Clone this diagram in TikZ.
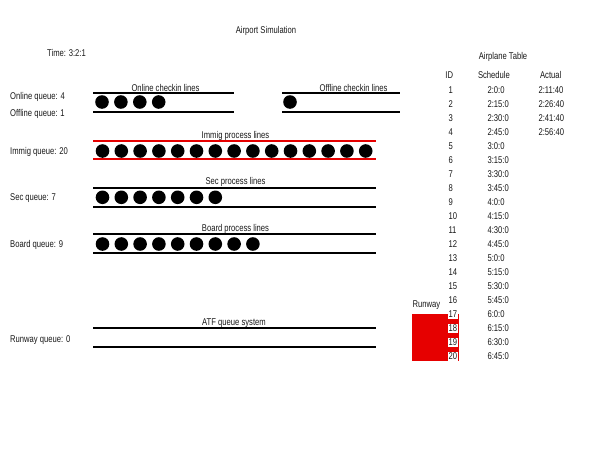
\documentclass[tikz,border=0pt]{standalone}
\usepackage{fontspec}
\setmainfont{Liberation Sans}[FakeStretch=0.78]
\definecolor{myred}{RGB}{230,0,0}
\begin{document}
\begin{tikzpicture}[x=1pt,y=-1pt,
  txt/.style={font=\fontsize{9.8}{11}\selectfont, inner sep=0pt, text=black!90},
  lane/.style={line width=1.7pt, draw=black},
  redlane/.style={line width=1.7pt, draw=myred},
  pax/.style={fill=black},
  idbox/.style={txt, fill=white, inner sep=0.6pt, anchor=base west}
]
\useasboundingbox (0,0) rectangle (600,450);
\fill[white] (0,0) rectangle (600,450);

% titles
\node[txt,anchor=base] (title) at (266,33.3) {Airport Simulation};
\node[txt,anchor=base west] (time) at (47,56.6) {Time: 3:2:1};

% queue labels
\node[txt,anchor=base west] (qon) at (10,99.3) {Online queue: 4};
\node[txt,anchor=base west] (qoff) at (10,116.6) {Offline queue: 1};
\node[txt,anchor=base west] (qimm) at (10,154.2) {Immig queue: 20};
\node[txt,anchor=base west] (qsec) at (10,200.5) {Sec queue: 7};
\node[txt,anchor=base west] (qbrd) at (10,247.2) {Board queue: 9};
\node[txt,anchor=base west] (qrun) at (10,342.5) {Runway queue: 0};

% online checkin
\node[txt,anchor=base] (lon) at (165.5,91.3) {Online checkin lines};
\draw[lane] (93.3,93.3) -- (234.3,93.3);
\draw[lane] (93.3,112.3) -- (234.3,112.3);
\foreach \i in {0,...,3} \fill[pax] (102+18.9*\i,102) circle[radius=6.8];

% offline checkin
\node[txt,anchor=base] (loff) at (353.5,91.3) {Offline checkin lines};
\draw[lane] (282,93.3) -- (400,93.3);
\draw[lane] (282,112.3) -- (400,112.3);
\fill[pax] (290,102) circle[radius=6.8];

% immigration
\node[txt,anchor=base] (limm) at (235.5,138.2) {Immig process lines};
\draw[redlane] (93.3,140.7) -- (375.7,140.7);
\draw[redlane] (93.3,159.3) -- (375.7,159.3);
\foreach \i in {0,...,14} \fill[pax] (102.5+18.8*\i,151) circle[radius=6.8];

% security
\node[txt,anchor=base] (lsec) at (235.5,184.9) {Sec process lines};
\draw[lane] (93.3,187.7) -- (375.7,187.7);
\draw[lane] (93.3,206.7) -- (375.7,206.7);
\foreach \i in {0,...,6} \fill[pax] (102.5+18.8*\i,197.3) circle[radius=6.8];

% boarding
\node[txt,anchor=base] (lbrd) at (235.5,231.9) {Board process lines};
\draw[lane] (93.3,234.3) -- (375.7,234.3);
\draw[lane] (93.3,252.7) -- (375.7,252.7);
\foreach \i in {0,...,8} \fill[pax] (102.5+18.8*\i,244) circle[radius=6.8];

% ATF
\node[txt,anchor=base] (latf) at (234,325.9) {ATF queue system};
\draw[lane] (93.3,327.7) -- (375.7,327.7);
\draw[lane] (93.3,346.7) -- (375.7,346.7);

% runway
\node[txt,anchor=base west] (rwy) at (412.5,307.2) {Runway};
\fill[myred] (412.3,313.5) rectangle (459,360.5);

% table
\node[txt,anchor=base] (ttl) at (503,59.9) {Airplane Table};
\node[txt,anchor=base] (hid) at (449.3,78.9) {ID};
\node[txt,anchor=base] (hsch) at (494,78.9) {Schedule};
\node[txt,anchor=base] (hact) at (550.7,78.9) {Actual};
\foreach \id/\s in {1/2:0:0,2/2:15:0,3/2:30:0,4/2:45:0,5/3:0:0,6/3:15:0,7/3:30:0,8/3:45:0,9/4:0:0,10/4:15:0,11/4:30:0,12/4:45:0,13/5:0:0,14/5:15:0,15/5:30:0,16/5:45:0,17/6:0:0,18/6:15:0,19/6:30:0,20/6:45:0}{
  \node[idbox] (id\id) at (447.7,93.9+14*\id-14) {\id};
  \node[txt,anchor=base west] (sc\id) at (487.3,93.9+14*\id-14) {\s};
}
\foreach \id/\a in {1/2:11:40,2/2:26:40,3/2:41:40,4/2:56:40}{
  \node[txt,anchor=base west] (ac\id) at (538.3,93.9+14*\id-14) {\a};
}
\end{tikzpicture}
\end{document}
